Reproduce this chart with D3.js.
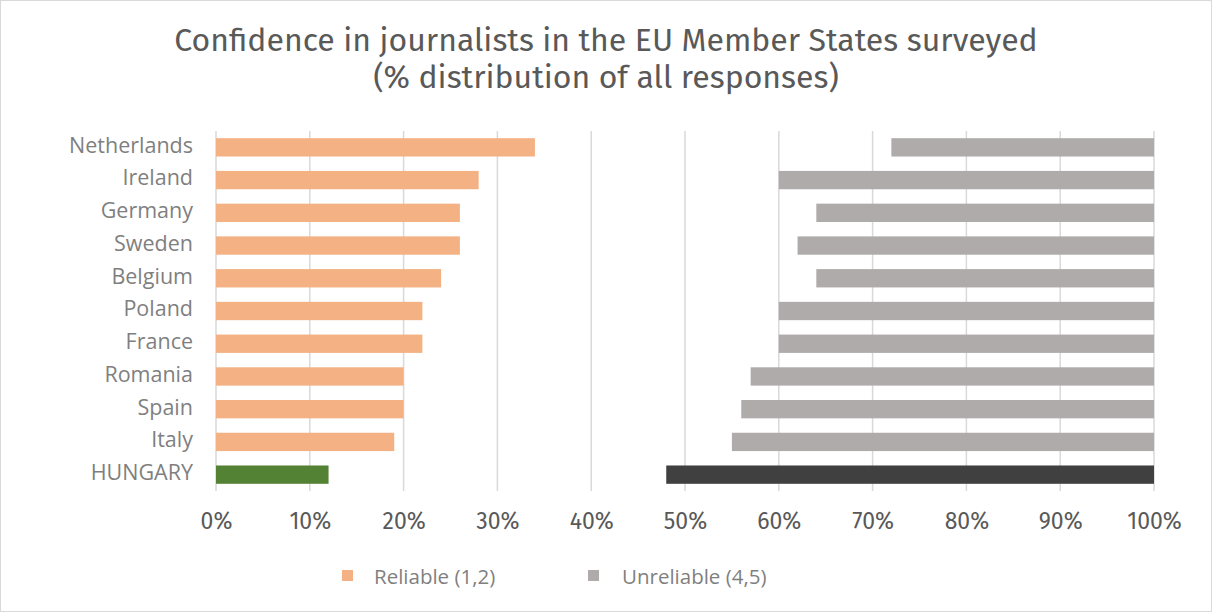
<!DOCTYPE html>
<html><head><meta charset="utf-8">
<script src="https://cdn.jsdelivr.net/npm/d3@7"></script>
<style>body{margin:0;background:#fff}svg{display:block}</style>
</head><body>
<svg id="c" width="1212" height="612"></svg>
<script>
const categories = ["Netherlands","Ireland","Germany","Sweden","Belgium","Poland","France","Romania","Spain","Italy","HUNGARY"];
const reliable   = [34,28,26,26,24,22,22,20,20,19,12];
const unreliable = [28,40,36,38,36,40,40,43,44,45,52];
const xTicks = [0,10,20,30,40,50,60,70,80,90,100];
const titleLines = ["Confidence in journalists in the EU Member States surveyed","(% distribution of all responses)"];
const legendLabels = ["Reliable (1,2)","Unreliable (4,5)"];

const font = "'Fira Sans','Open Sans','Noto Sans',sans-serif";
const font2 = "'Open Sans','Noto Sans',sans-serif";
const txt = "#595959";
const txt2 = "#7f7f7f";
const svg = d3.select("#c");
svg.append("rect").attr("x",0.5).attr("y",0.5).attr("width",1211).attr("height",611)
  .attr("fill","#fff").attr("stroke","#d9d9d9");

const x = d3.scaleLinear().domain([0,100]).range([216,1154]);
const y = d3.scaleBand().domain(categories).range([131,491]).paddingInner(0.44).paddingOuter(0.22);

// grid
svg.append("g").selectAll("line").data(xTicks).join("line")
  .attr("x1",d=>x(d)).attr("x2",d=>x(d)).attr("y1",131).attr("y2",491)
  .attr("stroke","#d9d9d9").attr("stroke-width",1.5);

const rows = categories.map((c,i)=>({c,r:reliable[i],u:unreliable[i],hu:c==="HUNGARY"}));
svg.append("g").selectAll("rect").data(rows).join("rect")
  .attr("x",x(0)).attr("y",d=>y(d.c)).attr("height",y.bandwidth())
  .attr("width",d=>x(d.r)-x(0)).attr("fill",d=>d.hu?"#548235":"#F4B183");
svg.append("g").selectAll("rect").data(rows).join("rect")
  .attr("x",d=>x(100-d.u)).attr("y",d=>y(d.c)).attr("height",y.bandwidth())
  .attr("width",d=>x(100)-x(100-d.u)).attr("fill",d=>d.hu?"#404040":"#AFABAB");

// y axis labels
const ya = svg.append("g").attr("transform","translate(206,-1.5)")
  .call(d3.axisLeft(y).tickSize(0).tickPadding(13));
ya.select(".domain").remove();
ya.selectAll("text").attr("font-family",font2).attr("font-size",21.5).attr("fill",txt2);

// x axis
const xa = svg.append("g").attr("transform","translate(0,491)")
  .call(d3.axisBottom(x).tickValues(xTicks).tickFormat(d=>d+"%").tickSize(0).tickPadding(22));
xa.select(".domain").remove();
xa.selectAll("text").attr("font-family",font).attr("font-size",23).attr("fill",txt);

// title
svg.append("g").selectAll("text").data(titleLines).join("text")
  .attr("x",606).attr("y",(d,i)=>51+i*37).attr("text-anchor","middle")
  .attr("font-family",font).attr("font-size",32).attr("fill",txt).text(d=>d);

// legend
const lg = [{t:legendLabels[0],c:"#F4B183",x:342,tx:374},{t:legendLabels[1],c:"#AFABAB",x:588,tx:622}];
const L = svg.append("g");
L.selectAll("rect").data(lg).join("rect").attr("x",d=>d.x).attr("y",570).attr("width",11).attr("height",11).attr("fill",d=>d.c);
L.selectAll("text").data(lg).join("text").attr("x",d=>d.tx).attr("y",584)
  .attr("font-family",font2).attr("font-size",20.5).attr("fill",txt2).text(d=>d.t);
</script>
</body></html>
